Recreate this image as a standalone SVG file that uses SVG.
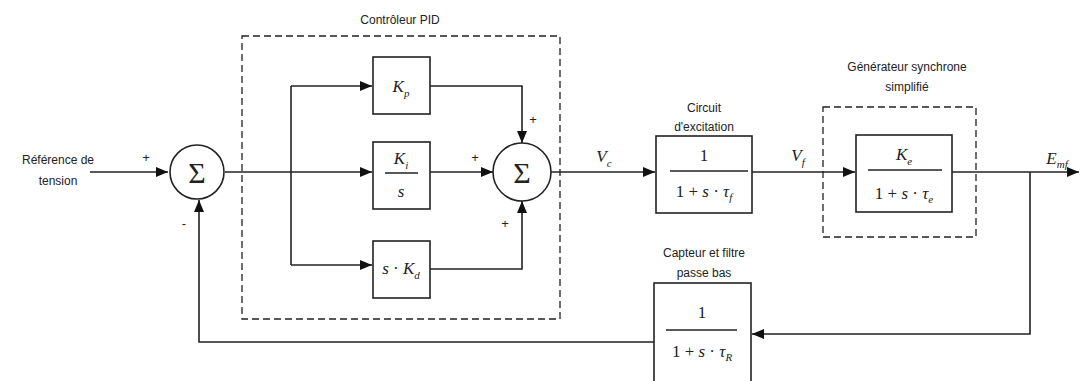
<svg xmlns="http://www.w3.org/2000/svg" width="1081" height="381" viewBox="0 0 1081 381">
<style>
.lbl{font-family:"Liberation Sans",Arial,sans-serif;font-size:12px;fill:#222;text-anchor:middle}
.m{font-family:"Liberation Serif","Times New Roman",serif;font-size:17px;fill:#222;text-anchor:middle}
.mi{font-style:italic}
.sub{font-size:11px;font-style:italic}
.blk{fill:#fff;stroke:#222;stroke-width:1.6}
.dash{fill:none;stroke:#222;stroke-width:1.3;stroke-dasharray:7,4}
.w{fill:none;stroke:#222;stroke-width:1.6}
.sg{font-family:"Liberation Serif","Times New Roman",serif;font-size:30px;fill:#222;text-anchor:middle}
.pm{font-family:"Liberation Sans",Arial,sans-serif;font-size:13px;fill:#222;text-anchor:middle}
</style>
<defs>
<marker id="ah" viewBox="0 0 12 10" refX="12" refY="5" markerWidth="12" markerHeight="10" markerUnits="userSpaceOnUse" orient="auto">
<path d="M0,0 L12,5 L0,10 z" fill="#111"/>
</marker>
</defs>
<rect width="1081" height="381" fill="#fff"/>

<g id="pid">
<rect class="dash" x="242" y="36" width="318" height="283"/>
<text class="lbl" x="400" y="24">Contrôleur PID</text>
</g>
<g id="gen-frame">
<rect class="dash" x="823" y="107" width="153" height="130"/>
<text class="lbl" x="907" y="71">Générateur synchrone</text>
<text class="lbl" x="907" y="91">simplifié</text>
</g>

<g id="connectors">
<polyline class="w" points="90,172 168,172" marker-end="url(#ah)"/>
<line class="w" x1="225" y1="172" x2="291" y2="172"/>
<polyline class="w" points="291,86 291,265"/>
<polyline class="w" points="291,86 372,86" marker-end="url(#ah)"/>
<polyline class="w" points="291,172 372,172" marker-end="url(#ah)"/>
<polyline class="w" points="291,265 372,265" marker-end="url(#ah)"/>
<polyline class="w" points="430,86 522,86 522,143" marker-end="url(#ah)"/>
<polyline class="w" points="430,172 493,172" marker-end="url(#ah)"/>
<polyline class="w" points="430,269 522,269 522,201" marker-end="url(#ah)"/>
<polyline class="w" points="551,172 655,172" marker-end="url(#ah)"/>
<polyline class="w" points="752,172 855,172" marker-end="url(#ah)"/>
<polyline class="w" points="952,172 1079,172" marker-end="url(#ah)"/>
<polyline class="w" points="1030,172 1030,334 752,334" marker-end="url(#ah)"/>
<polyline class="w" points="654,342 199,342 199,200" marker-end="url(#ah)"/>
</g>

<g id="ref-label">
<text class="lbl" x="58" y="164">Référence de</text>
<text class="lbl" x="58" y="185">tension</text>
<text class="pm" x="146" y="162">+</text>
<text class="pm" x="184" y="228">-</text>
</g>

<g id="sum1">
<circle class="blk" cx="197" cy="172" r="27"/>
<text class="sg" x="197" y="183">Σ</text>
</g>

<g id="kp">
<rect class="blk" x="373" y="57" width="57" height="57"/>
<text class="m" x="401" y="92"><tspan class="mi">K</tspan><tspan class="sub" dy="5">p</tspan></text>
</g>
<g id="ki">
<rect class="blk" x="373" y="142" width="57" height="67"/>
<text class="m" x="401" y="164"><tspan class="mi">K</tspan><tspan class="sub" dy="5">i</tspan></text>
<line class="w" x1="385" y1="173" x2="418" y2="173" stroke-width="1.2"/>
<text class="m mi" x="401" y="197">s</text>
</g>
<g id="kd">
<rect class="blk" x="373" y="241" width="57" height="57"/>
<text class="m" x="401" y="274"><tspan class="mi">s</tspan> · <tspan class="mi">K</tspan><tspan class="sub" dy="5">d</tspan></text>
</g>

<g id="sum2">
<circle class="blk" cx="522" cy="172" r="29"/>
<text class="sg" x="522" y="183">Σ</text>
<text class="pm" x="533" y="124">+</text>
<text class="pm" x="475" y="162">+</text>
<text class="pm" x="505" y="228">+</text>
</g>

<g id="excitation">
<text class="lbl" x="704" y="112">Circuit</text>
<text class="lbl" x="704" y="131">d'excitation</text>
<rect class="blk" x="656" y="136" width="96" height="77"/>
<text class="m" x="704" y="161">1</text>
<line class="w" x1="670" y1="171" x2="748" y2="171" stroke-width="1.2"/>
<text class="m" x="704" y="197">1 + <tspan class="mi">s</tspan> · <tspan class="mi">τ</tspan><tspan class="sub" dy="4">f</tspan></text>
<text class="m mi" x="604" y="162">V<tspan class="sub" dy="5">c</tspan></text>
</g>

<g id="generator">
<rect class="blk" x="856" y="135" width="96" height="77"/>
<text class="m" x="904" y="160"><tspan class="mi">K</tspan><tspan class="sub" dy="5">e</tspan></text>
<line class="w" x1="868" y1="170" x2="942" y2="170" stroke-width="1.2"/>
<text class="m" x="904" y="199">1 + <tspan class="mi">s</tspan> · <tspan class="mi">τ</tspan><tspan class="sub" dy="4">e</tspan></text>
<text class="m mi" x="798" y="161">V<tspan class="sub" dy="5">f</tspan></text>
<text class="m mi" x="1057" y="164">E<tspan class="sub" dy="4">mf</tspan></text>
</g>

<g id="filter">
<text class="lbl" x="704" y="257">Capteur et filtre</text>
<text class="lbl" x="704" y="277">passe bas</text>
<rect class="blk" x="654" y="283" width="97" height="100"/>
<text class="m" x="702" y="318">1</text>
<line class="w" x1="666" y1="330" x2="737" y2="330" stroke-width="1.2"/>
<text class="m" x="702" y="357">1 + <tspan class="mi">s</tspan> · <tspan class="mi">τ</tspan><tspan class="sub" dy="4">R</tspan></text>
</g>
</svg>
